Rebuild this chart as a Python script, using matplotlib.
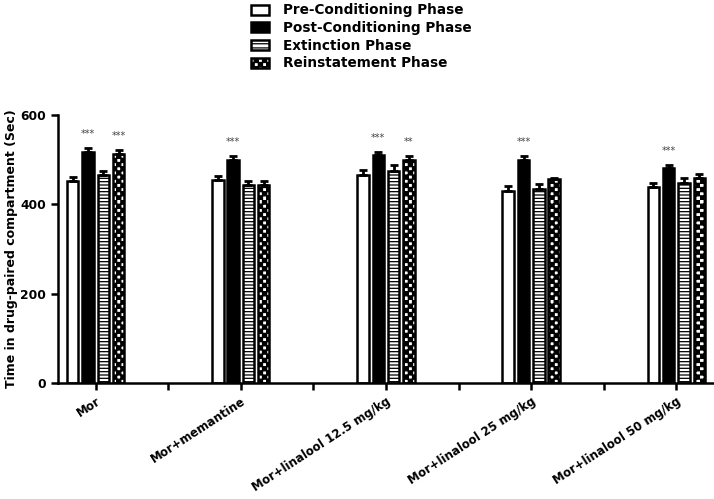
import numpy as np
import matplotlib
matplotlib.use("Agg")
import matplotlib.pyplot as plt
from matplotlib.patches import Patch
from matplotlib.path import Path
import matplotlib.hatch as mhatch
import warnings
warnings.filterwarnings("ignore")

groups = ["Mor", "Mor+memantine", "Mor+linalool 12.5 mg/kg",
          "Mor+linalool 25 mg/kg", "Mor+linalool 50 mg/kg"]
phases = ["Pre-Conditioning Phase", "Post-Conditioning Phase",
          "Extinction Phase", "Reinstatement Phase"]

pre = [453, 454, 466, 430, 438]
post = [518, 499, 510, 499, 481]
ext = [466, 443, 475, 434, 448]
rein = [513, 443, 499, 456, 458]

pre_err = [9, 9, 10, 10, 9]
post_err = [8, 10, 8, 9, 7]
ext_err = [8, 9, 12, 11, 11]
rein_err = [8, 9, 10, 4, 10]

post_stars = ["***", "***", "***", "***", "***"]
rein_stars = ["***", "", "**", "", ""]

values = [pre, post, ext, rein]
errors = [pre_err, post_err, ext_err, rein_err]
stars = [["", "", "", "", ""], post_stars, ["", "", "", "", ""], rein_stars]


# custom checkerboard hatch (character 'c')
class CheckerHatch(mhatch.HatchPatternBase):
    def __init__(self, hatch, density):
        self.n = int(hatch.count('c') * density)
        if self.n % 2:
            self.n += 1
        self.num_vertices = (self.n * self.n // 2) * 5 if self.n else 0

    def set_vertices_and_codes(self, vertices, codes):
        n = self.n
        s = 1.0 / n
        k = 0
        for r in range(n):
            for c in range(n):
                if (r + c) % 2 == 0:
                    x0, y0 = c * s, r * s
                    vertices[k:k + 5] = [[x0, y0], [x0 + s, y0],
                                         [x0 + s, y0 + s], [x0, y0 + s],
                                         [x0, y0]]
                    codes[k] = Path.MOVETO
                    codes[k + 1:k + 4] = Path.LINETO
                    codes[k + 4] = Path.CLOSEPOLY
                    k += 5


mhatch._hatch_types.append(CheckerHatch)

plt.rcParams['font.family'] = ['DejaVu Sans']
plt.rcParams['hatch.linewidth'] = 0.9

fig = plt.figure(figsize=(7.14, 4.99), dpi=100)
ax = fig.add_axes([0.0812, 0.2325, 0.919, 0.537])

x = np.arange(len(groups)) * 2.0
slot = 0.211
bw = 0.158
lw = 1.8

styles = [
    dict(facecolor="white", hatch=None),
    dict(facecolor="black", hatch=None),
    dict(facecolor="white", hatch="-----"),
    dict(facecolor="white", hatch="cccc"),
]

for i in range(4):
    xs = x + (i - 1.5) * slot
    ax.bar(xs, values[i], width=bw, color=styles[i]["facecolor"],
           edgecolor="black", linewidth=lw, hatch=styles[i]["hatch"],
           zorder=2)
    ax.errorbar(xs, values[i], yerr=[np.zeros(len(groups)), errors[i]],
                fmt="none", ecolor="black", elinewidth=2, capsize=3,
                capthick=2, zorder=3)
    for j, s in enumerate(stars[i]):
        if s:
            ax.text(xs[j], values[i][j] + errors[i][j] + 20, s, ha="center",
                    va="bottom", fontsize=7, color="#444444")

ax.set_xlim(-0.518, 8.52)
ax.set_ylim(0, 600)
ax.set_yticks([0, 200, 400, 600])
ax.set_xticks(x)
ax.set_xticks(x[:-1] + 1, minor=True)
ax.set_xticklabels(groups, rotation=33, ha="right", rotation_mode="anchor",
                   fontsize=8.5, fontweight="bold")
for lab in ax.get_yticklabels():
    lab.set_fontweight("bold")
    lab.set_fontsize(8.8)
ax.tick_params(axis="both", which="both", direction="out", width=1.8, length=5)
for sp in ["top", "right"]:
    ax.spines[sp].set_visible(False)
for sp in ["left", "bottom"]:
    ax.spines[sp].set_linewidth(1.8)

ax.set_ylabel("Time in drug-paired compartment (Sec)", fontsize=9,
              fontweight="bold", labelpad=2)

handles = [
    Patch(facecolor="white", edgecolor="black", linewidth=1.8),
    Patch(facecolor="black", edgecolor="black", linewidth=1.8),
    Patch(facecolor="white", edgecolor="black", linewidth=1.8, hatch="----"),
    Patch(facecolor="white", edgecolor="black", linewidth=1.8, hatch="cccc"),
]
fig.legend(handles, phases, loc="upper left", bbox_to_anchor=(0.335, 1.018),
           frameon=False, prop=dict(weight="bold", size=9.8),
           handlelength=1.3, handleheight=0.75, labelspacing=0.27,
           handletextpad=1.0)

fig.savefig("out.png", dpi=100)
